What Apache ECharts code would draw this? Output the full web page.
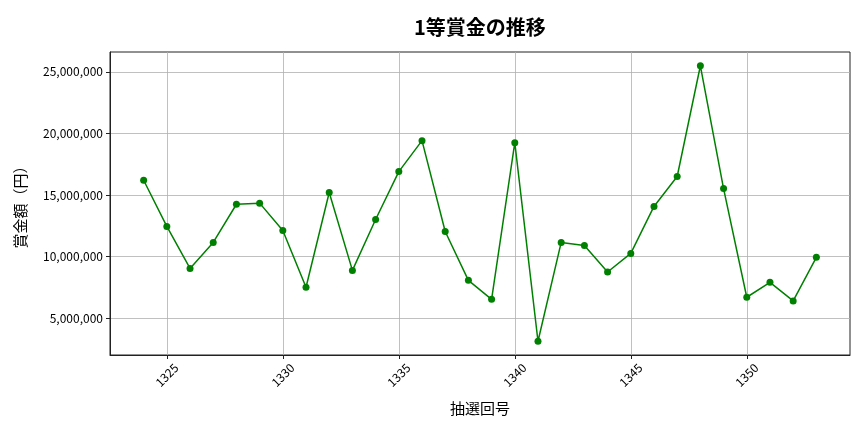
<!DOCTYPE html>
<html><head><meta charset="utf-8">
<script src="https://cdn.jsdelivr.net/npm/echarts@6/dist/echarts.min.js"></script>
<style>html,body{margin:0;padding:0;background:#fff}#c{width:864px;height:432px}</style>
</head><body><div id="c"></div>
<script>
const draws = [1324,1325,1326,1327,1328,1329,1330,1331,1332,1333,1334,1335,1336,1337,1338,1339,1340,1341,1342,1343,1344,1345,1346,1347,1348,1349,1350,1351,1352,1353];
const prizes = [16200000,12450000,9040000,11150000,14250000,14340000,12120000,7510000,15200000,8880000,13010000,16900000,19410000,12040000,8070000,6530000,19250000,3130000,11150000,10910000,8750000,10260000,14070000,16500000,25490000,15520000,6700000,7910000,6400000,9940000];
const xTicks = [1325,1330,1335,1340,1345,1350];
const yTicks = [5000000,10000000,15000000,20000000,25000000];

const xr = draws[draws.length-1]-draws[0];
const xMin = draws[0]-0.05*xr, xMax = draws[draws.length-1]+0.05*xr;
const ymn = Math.min(...prizes), ymx = Math.max(...prizes), yr = ymx-ymn;
const yMin = ymn-0.05*yr, yMax = ymx+0.05*yr;

const font = '"Noto Sans CJK JP", "Noto Sans", sans-serif';
const chart = echarts.init(document.getElementById('c'), null, {renderer:'canvas'});
chart.setOption({
  animation:false,
  backgroundColor:'#fff',
  title:{text:'1等賞金の推移', left:409, top:12,
    textStyle:{fontFamily:font, fontSize:20, fontWeight:'bold', color:'#000'}},
  grid:{left:110, right:14, top:52, bottom:77, show:true, borderColor:'#222', borderWidth:1, backgroundColor:'transparent'},
  xAxis:{type:'value', min:xMin, max:xMax,
    name:'抽選回号', nameLocation:'middle', nameGap:46,
    nameTextStyle:{fontFamily:font, fontSize:15, color:'#000'},
    axisLine:{show:true, onZero:false, lineStyle:{color:'#222'}},
    axisTick:{show:true, length:4, customValues:xTicks, lineStyle:{color:'#222'}},
    axisLabel:{customValues:xTicks, rotate:45, align:'center', verticalAlign:'middle',
      fontFamily:font, fontSize:12, color:'#000', margin:20, formatter:v=>String(v)},
    splitLine:{show:true, lineStyle:{color:'#b0b0b0', width:0.8}}},
  yAxis:{type:'value', min:yMin, max:yMax,
    name:'賞金額（円）', nameLocation:'middle', nameGap:82,
    nameTextStyle:{fontFamily:font, fontSize:15, color:'#000'},
    axisLine:{show:true, lineStyle:{color:'#222'}},
    axisTick:{show:true, length:4, customValues:yTicks, lineStyle:{color:'#222'}},
    axisLabel:{customValues:yTicks, fontFamily:font, fontSize:12, color:'#000', margin:7,
      formatter:v=>Math.round(v).toString().replace(/\B(?=(\d{3})+(?!\d))/g, ',')},
    splitLine:{show:true, lineStyle:{color:'#b0b0b0', width:0.8}}},
  series:[{type:'line', data:draws.map((d,i)=>[d,prizes[i]]),
    symbol:'circle', symbolSize:7, itemStyle:{color:'#008000'},
    lineStyle:{color:'#008000', width:1.5}}]
});
</script></body></html>
